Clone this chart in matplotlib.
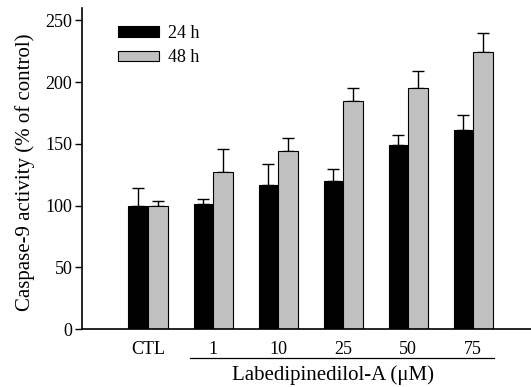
import matplotlib
matplotlib.use("Agg")
import matplotlib.pyplot as plt
import matplotlib.transforms as mtransforms
from matplotlib.patches import Patch
import numpy as np

# valores
categorias = ['CTL', '1', '10', '25', '50', '75']
act_24h = [100, 101, 117, 120, 149, 161]
err_24h = [14, 4, 17, 10, 8, 12]
act_48h = [100, 127, 144, 185, 195, 224]
err_48h = [4, 19, 11, 10, 14, 16]

plt.rcParams['font.family'] = ['Liberation Serif', 'DejaVu Serif']
plt.rcParams['font.size'] = 13

W, H = 531, 387
fig = plt.figure(figsize=(W / 100, H / 100), dpi=100)
ax = fig.add_axes([82 / W, (H - 329) / H, (W - 82) / W, (329 - 8) / H])

x = np.arange(len(categorias))
ancho = 0.3
ceros = np.zeros(len(categorias))

ax.bar(x - ancho / 2, act_24h, ancho, color='black', edgecolor='black', linewidth=0.8, zorder=2)
ax.bar(x + ancho / 2, act_48h, ancho, color='#c0c0c0', edgecolor='black', linewidth=0.8, zorder=2)
ax.errorbar(x - ancho / 2, act_24h, yerr=[ceros, err_24h], fmt='none', ecolor='black',
            elinewidth=1, capsize=4, capthick=1, zorder=1)
ax.errorbar(x + ancho / 2, act_48h, yerr=[ceros, err_48h], fmt='none', ecolor='black',
            elinewidth=1, capsize=4, capthick=1, zorder=1)

ax.set_xlim(-1.015, 5.89)
ax.set_ylim(0, 260)
ax.set_yticks([0, 50, 100, 150, 200, 250])
ax.set_xticks(x)
ax.set_xticklabels(categorias)
ax.tick_params(axis='x', length=0, pad=8.5)
ax.tick_params(axis='y', direction='out', length=5, width=1, pad=2)

ax.spines['top'].set_visible(False)
ax.spines['right'].set_visible(False)
ax.spines['left'].set_linewidth(1.2)
ax.spines['bottom'].set_linewidth(1.2)

ax.set_ylabel('Caspase-9 activity (% of control)', fontsize=15)
ax.yaxis.set_label_coords(-0.105, 0.4875)

trans = mtransforms.blended_transform_factory(ax.transData, ax.transAxes)
ax.plot([0.65, 5.32], [-0.0915, -0.0915], color='black', lw=0.9, transform=trans, clip_on=False)
ax.text(2.84, -0.143, 'Labedipinedilol-A (μM)', transform=trans, ha='center', va='center',
        fontsize=15)

handles = [Patch(facecolor='black', edgecolor='black', linewidth=0.8),
           Patch(facecolor='#c0c0c0', edgecolor='black', linewidth=0.8)]
ax.legend(handles, ['24 h', '48 h'], loc='upper left', bbox_to_anchor=(0.08, 0.947),
          frameon=False, borderpad=0, borderaxespad=0, handlelength=2.28,
          handleheight=0.53, handletextpad=0.5, labelspacing=0.4)

fig.savefig('out.png', dpi=100)
